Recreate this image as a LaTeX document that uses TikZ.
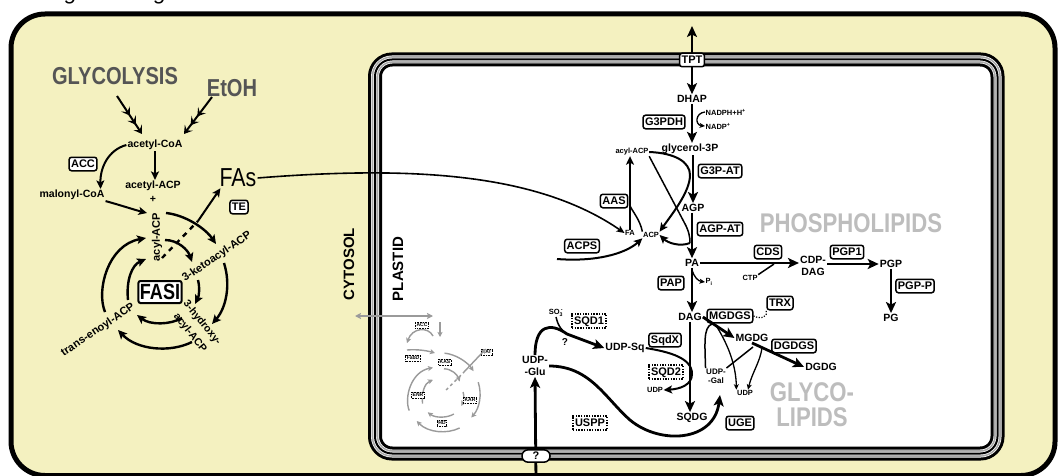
\documentclass[tikz,border=0pt]{standalone}
\usepackage{fontspec}
\setmainfont{Liberation Sans}
\newfontfamily\condfont{Liberation Sans}[FakeStretch=0.82]
\usetikzlibrary{arrows.meta}
\newcommand{\fsz}[1]{\fontsize{#1}{#1}\selectfont}
\newcommand{\fszl}[2]{\fontsize{#1}{#2}\selectfont}
\definecolor{cellbg}{HTML}{F4F1C0}
\definecolor{titlegrey}{HTML}{555555}
\definecolor{lightgrey}{HTML}{BDBDBD}
\definecolor{minigrey}{HTML}{9A9A9A}
\definecolor{memgrey}{HTML}{A8A8A8}
\newcommand{\fascyc}[1]{%
\draw[#1] (105,312) .. controls (96,290) and (108,245) .. (146,238);
\draw[#1] (166,213) .. controls (185,215) and (205,228) .. (216,244);
\draw[#1] (224,263) .. controls (231,285) and (226,308) .. (212,324);
\draw[#1] (192,342) .. controls (170,353) and (137,350) .. (118,330);
\draw[#1] (128,300) .. controls (126,280) and (132,265) .. (146,259);
\draw[#1] (165,240) .. controls (178,240) and (188,250) .. (192,262);
\draw[#1] (198,280) .. controls (200,288) and (199,296) .. (195,304);
\draw[#1] (182,318) .. controls (170,325) and (150,325) .. (137,315);
}
\begin{document}
\begin{tikzpicture}[x=1pt,y=-1pt,
  enz/.style={draw, line width=1.5pt, rounded corners=2.5pt, fill=white, inner xsep=2pt, inner ysep=2.6pt, text height=8pt, text depth=0.3pt, font=\bfseries\fsz{11}},
  dotenz/.style={draw, line width=1.4pt, dash pattern=on 1.4pt off 1.3pt, fill=white, inner xsep=2pt, inner ysep=3pt, text height=8pt, text depth=0.3pt, font=\bfseries\fsz{11}},
  minibox/.style={draw, line width=0.8pt, dash pattern=on 0.8pt off 0.8pt, fill=white, inner sep=1.2pt, font=\bfseries\fsz{5}},
  lab/.style={font=\bfseries\fsz{10.5}, inner sep=1pt},
  small/.style={font=\bfseries\fsz{7.5}, inner sep=0.5pt},
  fas/.style={font=\bfseries\fsz{11}, inner sep=0.5pt},
  bigarr/.style={line width=2.8pt, -{Stealth[length=11pt,width=10pt,inset=2.5pt]}},
  arr/.style={line width=2pt, -{Stealth[length=8.5pt,width=8pt,inset=2pt]}},
  cyc/.style={line width=2.4pt, -{Stealth[length=9pt,width=8.5pt,inset=2pt]}},
  thinarr/.style={line width=1.3pt, -{Stealth[length=5.5pt,width=5pt,inset=1.5pt]}},
  plainln/.style={line width=1.5pt},
  minarr/.style={draw=minigrey, line width=1.4pt, -{Stealth[length=5pt,width=5pt,inset=1.2pt]}},
  chev/.style={line width=2pt, -{Stealth[length=8pt,width=10pt,inset=3.5pt,sep=3pt] Stealth[length=8pt,width=10pt,inset=3.5pt,sep=3pt] Stealth[length=8pt,width=10pt,inset=3.5pt]}}
]
\useasboundingbox (0,0) rectangle (1059,476);
% title fragment
\node[font=\itshape\fsz{22}, anchor=base west, inner sep=0] (title) at (38,0) {Euglena longa};
% outer cell
\draw[line width=5pt, fill=cellbg, rounded corners=34pt] (11,14) rectangle (1055,475.5);
% plastid membrane
\fill[white, rounded corners=17pt] (375,59.5) rectangle (997.5,453.5);
\foreach \w/\c in {14/black, 8/white, 6.6/memgrey, 3.4/white, 2/black}
  {\draw[line width=\w pt, \c, rounded corners=17pt] (375,59.5) rectangle (997.5,453.5);}

% ---------------- cytosol ----------------
\node[font=\condfont\bfseries\fsz{24.5}, text=titlegrey, inner sep=0] (glycol) at (115,76) {GLYCOLYSIS};
\node[font=\condfont\bfseries\fsz{24.5}, text=titlegrey, inner sep=0] (etoh) at (232,88) {EtOH};
\node[lab] (acoa) at (155,145) {acetyl-CoA};
\node[enz] (acc) at (83,164) {ACC};
\node[lab] (mcoa) at (72,195) {malonyl-CoA};
\node[lab] (aacp) at (153,186) {acetyl-ACP};
\node[lab] (plus) at (153,199) {+};
\coordinate (g1) at (117,96); \coordinate (g2) at (142,134);
\coordinate (e1) at (212,97); \coordinate (e2) at (184,134);
\draw[chev] (g1) -- (g2);
\draw[chev] (e1) -- (e2);
\draw[arr] (acoa.south) -- (acoa.south |- aacp.north);
\draw[arr] (acoa.west) .. controls (108,150) and (100,168) .. ([xshift=-5pt]mcoa.north east);
\coordinate (m2) at (147,213);
\draw[arr] (mcoa.south east) .. controls (120,205) and (135,210) .. (m2);

\node[fas, rotate=90] (facyl) at (157,237) {acyl-ACP};
\node[fas, rotate=34] (fketo) at (217,257) {3-ketoacyl-ACP};
\node[fas, rotate=-51, align=center, font=\bfseries\fszl{10.5}{15.5}] (fhyd) at (196,328) {3-hydroxy-\\acyl-ACP};
\node[fas, rotate=34] (fenoyl) at (98,330) {trans-enoyl-ACP};
\fascyc{cyc}
\node[draw, line width=2pt, rounded corners=2pt, fill=white, font=\condfont\bfseries\fsz{22}, inner sep=1.5pt, minimum height=22pt] (fasi) at (160,292) {FASI};
\node[enz] (te) at (239,207) {TE};
\node[font=\condfont\fsz{26}, inner sep=1pt] (fas) at (238,178) {FAs};
\coordinate (d1) at (162,258); \coordinate (d2) at (198,221);
\draw[line width=2.4pt, dash pattern=on 5pt off 5pt] (d1) -- (d2);
\draw[arr] (d2) -- ([xshift=2pt]fas.south west);

\node[font=\bfseries\fsz{15}, rotate=90, inner sep=0] (cyt) at (349,264) {CYTOSOL};

% ---------------- plastid ----------------
\node[font=\bfseries\fsz{15}, rotate=90, inner sep=0] (pls) at (398,269) {PLASTID};
\node[lab] (dhap) at (692,99) {DHAP};
\coordinate (tptup) at (692,26);
\draw[bigarr, {Stealth[length=11pt,width=10pt,inset=2.5pt]}-{Stealth[length=11pt,width=10pt,inset=2.5pt]}] (tptup) -- (dhap.north);
\node[enz] (tpt) at (692,60) {TPT};
\node[enz] (g3pdh) at (664,122) {G3PDH};
\node[small, anchor=west] (nadph) at (705,112) {NADPH+H\textsuperscript{+}};
\node[small, anchor=west] (nadp) at (705,126) {NADP\textsuperscript{+}};
\node[lab] (g3p) at (690,149) {glycerol-3P};
\node[small] (acylp) at (632,152) {acyl-ACP};
\node[enz] (g3pat) at (720,171) {G3P-AT};
\node[lab] (agp) at (693,208) {AGP};
\node[enz] (agpat) at (720,229) {AGP-AT};
\node[lab] (pa) at (692,263) {PA};
\node[small] (fa) at (630,233) {FA};
\node[small] (acp) at (651,235) {ACP};
\node[enz] (aas) at (614,201) {AAS};
\node[enz] (acps) at (582,246) {ACPS};
\node[enz] (pap) at (671,283) {PAP};
\node[small, anchor=west] (pinode) at (705,282) {P\textsubscript{i}};
\node[lab] (dag) at (690,317) {DAG};
\node[lab] (sqdg) at (692,418) {SQDG};
\node[enz] (cds) at (768,252) {CDS};
\node[small] (ctp) at (750,278) {CTP};
\node[lab, font=\bfseries\fszl{10.5}{11.5}, align=center] (cdpdag) at (813,266) {CDP-\\DAG};
\node[enz] (pgp1) at (847,252) {PGP1};
\node[lab] (pgp) at (891,264) {PGP};
\node[enz] (pgpp) at (915,286) {PGP-P};
\node[lab] (pg) at (891,318) {PG};
\node[font=\condfont\bfseries\fsz{27}, text=lightgrey, inner sep=0] (phos) at (851,223) {PHOSPHOLIPIDS};
\node[font=\condfont\bfseries\fszl{27}{25}, text=lightgrey, inner sep=0, align=center] (glyl) at (812,405) {GLYCO-\\LIPIDS};

\draw[bigarr] (dhap.south) -- (dhap.south |- g3p.north);
\draw[thinarr] (nadph.west) .. controls (695,113) and (695,125) .. (nadp.west);
\draw[bigarr] (agp.north |- g3p.south) -- (agp.north);
\draw[bigarr] (agp.south -| pa.north) -- (pa.north);
\draw[arr] (acylp.east) .. controls (675,153) and (690,162) .. (690,175) .. controls (690,192) and (672,214) .. (acp.north east);
\coordinate (j2) at (690,243);
\draw[plainln] (acylp.south east) -- (684,222) .. controls (689,231) and (690,237) .. (j2);
\draw[arr] (j2) .. controls (680,247) and (668,243) .. (acp.east);
\draw[arr] (fa.north) -- (fa.north |- acylp.south);
\coordinate (j1) at (630,206);
\draw[plainln] (acp.north west) .. controls (640,220) and (633,212) .. (j1);
\coordinate (acpsin) at (557,259);
\draw[arr] (acpsin) .. controls (595,262) and (625,254) .. (acp.south west);
\draw[line width=1.6pt, -{Stealth[length=8pt,width=7pt,inset=2pt]}] (fas.east) .. controls (420,165) and (540,175) .. (fa.west);
\draw[bigarr] (pa.south) -- (pa.south |- dag.north);
\coordinate (jpi) at (692,270);
\draw[thinarr] (jpi) .. controls (694,277) and (698,281) .. (pinode.west);
\draw[bigarr] (dag.south) -- (dag.south |- sqdg.north);
\draw[bigarr] (pa.east) -- (pa.east -| cdpdag.west);
\coordinate (jctp) at (774,264);
\draw[plainln] (ctp.north east) -- (jctp);
\draw[bigarr] (cdpdag.east |- pgp.west) -- (pgp.west);
\draw[bigarr] (pgp.south) -- (pgp.south |- pg.north);

% sulfolipids / galactolipids
\node[small] (so3) at (556,313) {SO\textsubscript{3}\kern-0.3em\textsuperscript{-}};
\node[dotenz] (sqd1) at (589,321) {SQD1};
\node[font=\bfseries\fsz{10}, inner sep=0] (q1) at (565,342) {?};
\node[lab] (udpsq) at (625,348) {UDP-Sq};
\node[enz] (sqdx) at (665,340) {SqdX};
\node[dotenz] (sqd2) at (666,372) {SQD2};
\node[small] (udp1) at (655,390) {UDP};
\node[lab, font=\bfseries\fszl{10.5}{12}, align=center] (udpglu) at (535,366) {UDP-\\-Glu};
\node[dotenz] (uspp) at (590,423) {USPP};
\node[small, font=\bfseries\fszl{8}{9}, align=center] (udpgal) at (716,376) {UDP-\\-Gal};
\node[enz] (uge) at (740,423) {UGE};
\node[enz] (mgdgs) at (730,316) {MGDGS};
\node[enz] (trx) at (780,303) {TRX};
\node[lab] (mgdg) at (752,338) {MGDG};
\node[enz] (dgdgs) at (794,346) {DGDGS};
\node[lab] (dgdg) at (821,367) {DGDG};
\node[small] (udp2) at (745,393) {UDP};

\coordinate (jso) at (567,334);
\draw[bigarr] (udpglu.north) .. controls (535,325) and (550,322) .. (jso) -- (udpsq.west);
\draw[plainln] (so3.south) .. controls (558,326) and (562,331) .. (jso);
\draw[arr] (udpsq.east) .. controls (670,352) and (692,358) .. (692,374) .. controls (692,385) and (680,389) .. (udp1.east);
\coordinate (qbot) at (536,482);
\draw[bigarr] (qbot) -- (udpglu.south);
\node[enz, rounded corners=6pt, minimum width=28pt, inner ysep=2pt] (qt) at (536,456) {?};
\draw[bigarr] (udpglu.east) .. controls (590,366) and (605,398) .. (630,420) .. controls (660,445) and (714,442) .. ([xshift=4pt,yshift=-11pt]udpgal.south);
\coordinate (jgal) at (712,324);
\draw[plainln] (udpgal.north west) .. controls (705,345) and (703,327) .. (jgal);
\draw[bigarr] (dag.east) -- (mgdg.west);
\draw[thinarr] (717,327) .. controls (728,345) and (736,365) .. (udp2.north west);
\draw[bigarr] (mgdg.south) -- (dgdg.west);
\coordinate (jm) at (753,347);
\draw[plainln] (udpgal.north east) -- (jm);
\draw[thinarr] (762,348) .. controls (760,362) and (752,373) .. ([xshift=3pt]udp2.north);
\draw[line width=1.2pt, dash pattern=on 1.2pt off 1.5pt] (mgdgs.east) .. controls (762,320) and (768,316) .. (trx.south west);

% mini grey FAS cycle
\coordinate (ga1) at (355,316); \coordinate (ga2) at (433,316);
\draw[minarr, {Stealth[length=6pt,width=6pt,inset=1.2pt]}-{Stealth[length=6pt,width=6pt,inset=1.2pt]}] (ga1) -- (ga2);
\begin{scope}[shift={(444,392)}, scale=0.58, shift={(-165,-280)}]
\fascyc{minarr}
\end{scope}
\node[minibox] (macc) at (422,325) {ACC};
\node[minibox] (mfabd) at (413,358) {FabD};
\node[minibox] (mkas) at (445,362) {KAS};
\node[minibox] (mfat) at (487,352) {FAT};
\node[minibox] (menr) at (418,395) {ENR};
\node[minibox] (mkar) at (470,400) {KAR};
\node[minibox] (mhd) at (442,423) {HD};
\coordinate (ma1) at (440,322); \coordinate (ma2) at (440,337);
\draw[minarr] (ma1) -- (ma2);
\coordinate (mb1) at (433,336); \coordinate (mb2) at (407,343);
\draw[minarr] (mb1) .. controls (428,326) and (412,328) .. (mb2);
\coordinate (mc1) at (407,350); \coordinate (mc2) at (435,353);
\draw[minarr] (mc1) .. controls (418,349) and (428,351) .. (mc2);
\coordinate (md1) at (446,390); \coordinate (md2) at (464,372);
\draw[draw=minigrey, line width=1.4pt, dash pattern=on 3pt off 3pt] (md1) -- (md2);
\draw[minarr] (md2) -- ([xshift=-1pt]mfat.north);
\end{tikzpicture}
\end{document}
